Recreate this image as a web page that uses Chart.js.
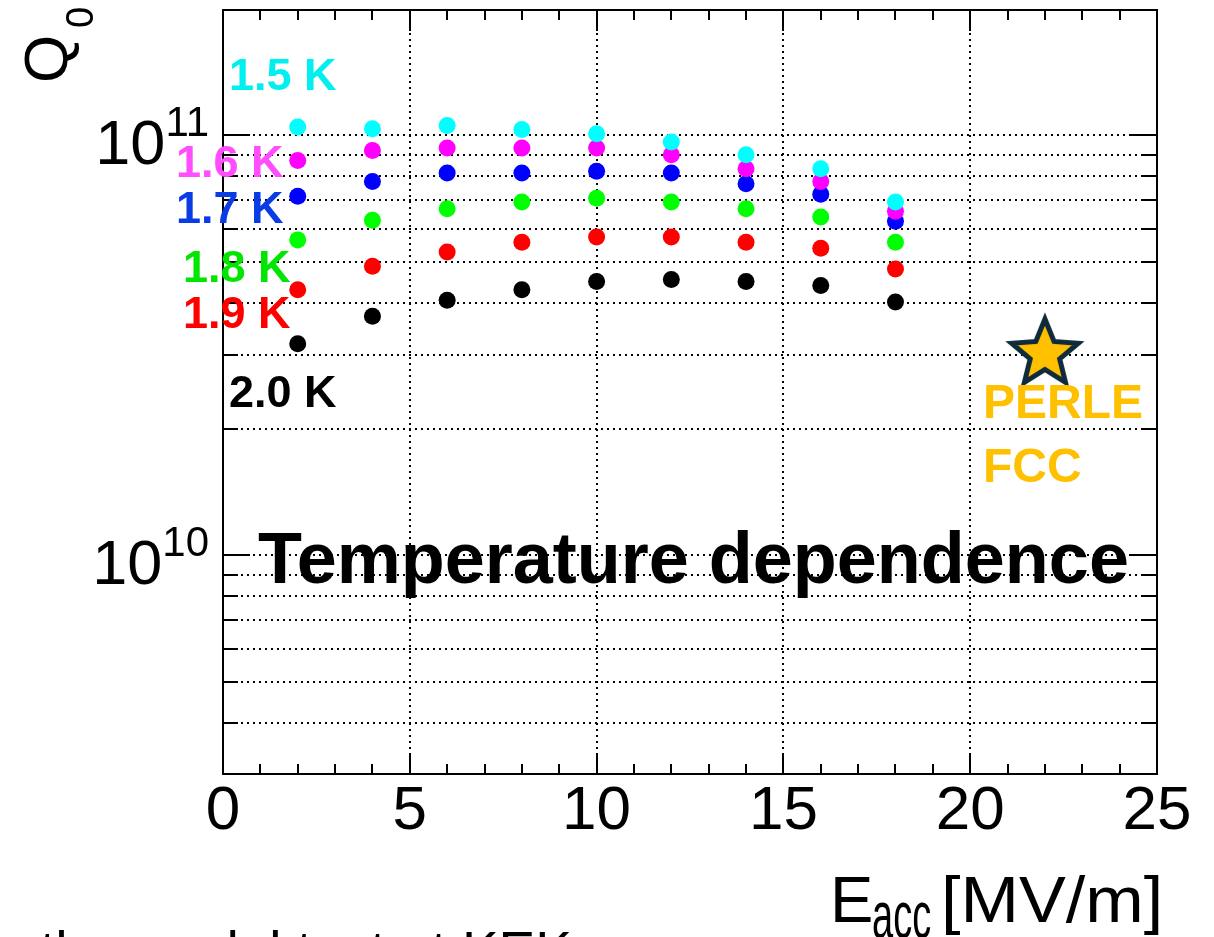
<!DOCTYPE html>
<html>
<head>
<meta charset="utf-8">
<script src="https://cdn.jsdelivr.net/npm/chart.js@4/dist/chart.umd.min.js"></script>
<style>
  html, body { margin: 0; padding: 0; background: #fff; }
  canvas { display: block; }
</style>
</head>
<body>
<canvas id="c" width="1214" height="937" style="width:1214px;height:937px"></canvas>
<script>
// Accelerating gradient (MV/m) at which Q0 was measured
const fieldMVm = [2, 4, 6, 8, 10, 12, 14, 16, 18];

// Q0 per bath temperature
const q0_15K = [1.047e11, 1.037e11, 1.056e11, 1.033e11, 1.009e11, 9.64e10, 9.00e10, 8.33e10, 6.94e10];
const q0_16K = [8.72e10, 9.21e10, 9.33e10, 9.33e10, 9.33e10, 9.00e10, 8.33e10, 7.77e10, 6.60e10];
const q0_17K = [7.16e10, 7.77e10, 8.14e10, 8.14e10, 8.22e10, 8.14e10, 7.67e10, 7.24e10, 6.25e10];
const q0_18K = [5.64e10, 6.28e10, 6.69e10, 6.94e10, 7.09e10, 6.94e10, 6.69e10, 6.39e10, 5.57e10];
const q0_19K = [4.29e10, 4.88e10, 5.28e10, 5.57e10, 5.73e10, 5.73e10, 5.57e10, 5.39e10, 4.81e10];
const q0_20K = [3.19e10, 3.71e10, 4.05e10, 4.29e10, 4.49e10, 4.54e10, 4.49e10, 4.39e10, 4.01e10];

// Design target (PERLE / FCC)
const targetField = [22];
const targetQ0 = [3.05e10];

// Axis ranges and tick labels
const xRange = [0, 25];
const xTicks = [0, 5, 10, 15, 20, 25];
const yRange = [3e9, 2e11];
const yDecades = [1e10, 1e11];

// Series labels and colours
const tempLabels = ['1.5 K', '1.6 K', '1.7 K', '1.8 K', '1.9 K', '2.0 K'];
const markerColors = ['#00ffff', '#ff00ff', '#0000ff', '#00ff00', '#ff0000', '#000000'];
const labelColors = ['#00f0f0', '#ff4dff', '#0a3ce6', '#00e600', '#ff0000', '#000000'];
const series = [q0_15K, q0_16K, q0_17K, q0_18K, q0_19K, q0_20K];

const FONT = "'Liberation Sans', Arial, Helvetica, sans-serif";

function toPoints(xs, ys) { return xs.map((x, i) => ({ x: x, y: ys[i] })); }

// Filled five-pointed star used as the target marker
function makeStar() {
  const size = 84, c = document.createElement('canvas');
  c.width = size; c.height = size;
  const g = c.getContext('2d');
  const R = 35, r = 15.5, cx = size / 2, cy = size / 2 + 2;
  g.beginPath();
  for (let i = 0; i < 10; i++) {
    const rad = i % 2 === 0 ? R : r;
    const ang = -Math.PI / 2 + i * Math.PI / 5;
    const px = cx + rad * Math.cos(ang), py = cy + rad * Math.sin(ang);
    if (i === 0) g.moveTo(px, py); else g.lineTo(px, py);
  }
  g.closePath();
  g.fillStyle = '#ffc000';
  g.fill();
  g.lineWidth = 5;
  g.lineJoin = 'miter';
  g.strokeStyle = '#0f2a3a';
  g.stroke();
  return c;
}

const datasets = series.map((vals, i) => ({
  label: tempLabels[i],
  data: toPoints(fieldMVm, vals),
  pointRadius: 8.5,
  pointHoverRadius: 8.5,
  pointBorderWidth: 0,
  pointBackgroundColor: markerColors[i],
  pointBorderColor: markerColors[i],
  showLine: false
}));
datasets.push({
  label: 'PERLE / FCC',
  data: toPoints(targetField, targetQ0),
  pointStyle: makeStar(),
  pointRadius: 30,
  showLine: false
});

// ROOT-like frame: dotted grid, inward ticks on all sides, custom labels
const framePlugin = {
  id: 'rootFrame',
  beforeDatasetsDraw(chart) {
    const ctx = chart.ctx, a = chart.chartArea, xs = chart.scales.x, ys = chart.scales.y;
    ctx.save();
    ctx.strokeStyle = '#000';
    ctx.lineWidth = 2;
    ctx.setLineDash([2, 4]);
    xTicks.forEach(v => {
      if (v <= xRange[0] || v >= xRange[1]) return;
      const px = Math.round(xs.getPixelForValue(v));
      ctx.beginPath(); ctx.moveTo(px, a.top); ctx.lineTo(px, a.bottom); ctx.stroke();
    });
    for (let e = 9; e <= 11; e++) {
      for (let m = 1; m <= 9; m++) {
        const v = m * Math.pow(10, e);
        if (v <= yRange[0] * 1.001 || v >= yRange[1] * 0.999) continue;
        const py = Math.round(ys.getPixelForValue(v));
        ctx.beginPath(); ctx.moveTo(a.left, py); ctx.lineTo(a.right, py); ctx.stroke();
      }
    }
    ctx.restore();
  },
  afterDatasetsDraw(chart) {
    const ctx = chart.ctx, a = chart.chartArea, xs = chart.scales.x, ys = chart.scales.y;
    ctx.save();
    ctx.strokeStyle = '#000';
    ctx.lineWidth = 2;
    ctx.setLineDash([]);
    // x ticks, bottom and top
    for (let v = xRange[0] + 1; v < xRange[1]; v++) {
      const px = Math.round(xs.getPixelForValue(v));
      const len = v % 5 === 0 ? 22 : 11;
      ctx.beginPath();
      ctx.moveTo(px, a.bottom); ctx.lineTo(px, a.bottom - len);
      ctx.moveTo(px, a.top); ctx.lineTo(px, a.top + len);
      ctx.stroke();
    }
    // y ticks, left and right
    for (let e = 9; e <= 11; e++) {
      for (let m = 1; m <= 9; m++) {
        const v = m * Math.pow(10, e);
        if (v <= yRange[0] * 1.001 || v >= yRange[1] * 0.999) continue;
        const py = Math.round(ys.getPixelForValue(v));
        const len = m === 1 ? 27 : 15;
        ctx.beginPath();
        ctx.moveTo(a.left, py); ctx.lineTo(a.left + len, py);
        ctx.moveTo(a.right, py); ctx.lineTo(a.right - len, py);
        ctx.stroke();
      }
    }
    // frame
    ctx.strokeRect(a.left, a.top + 1, a.right - a.left, a.bottom - a.top - 2);

    // y tick labels 10^n
    ctx.fillStyle = '#000';
    ctx.textBaseline = 'alphabetic';
    yDecades.forEach(v => {
      const py = ys.getPixelForValue(v);
      const exp = String(Math.round(Math.log10(v)));
      ctx.font = '42px ' + FONT;
      const ew = ctx.measureText(exp).width;
      ctx.textAlign = 'right';
      ctx.fillText(exp, 209, py + 1);
      ctx.font = '63px ' + FONT;
      ctx.fillText('10', 209 - ew, py + 29);
    });

    // y axis title Q0 (rotated)
    ctx.save();
    ctx.translate(67, 83);
    ctx.rotate(-Math.PI / 2);
    ctx.textAlign = 'left';
    ctx.font = '62px ' + FONT;
    ctx.fillText('Q', 0, 0);
    ctx.font = '38px ' + FONT;
    ctx.fillText('0', 55, 26);
    ctx.restore();

    // x axis title E_acc [MV/m]
    ctx.textAlign = 'left';
    ctx.font = '65px ' + FONT;
    ctx.fillText('E', 830, 922);
    ctx.save();
    ctx.translate(941, 922);
    ctx.scale(1.08, 1);
    ctx.fillText('[MV/m]', 0, 0);
    ctx.restore();
    ctx.save();
    ctx.translate(872, 938);
    ctx.scale(1, 1.75);
    ctx.font = '38px ' + FONT;
    ctx.fillText('acc', 0, 0);
    ctx.restore();

    // temperature labels
    const labelPos = [[229, 90], [176, 177], [176, 223], [183, 282], [183, 328], [229, 407]];
    ctx.font = 'bold 45px ' + FONT;
    tempLabels.forEach((t, i) => {
      ctx.fillStyle = labelColors[i];
      ctx.fillText(t, labelPos[i][0], labelPos[i][1]);
    });

    // target annotation
    ctx.fillStyle = '#ffc000';
    ctx.font = 'bold 48px ' + FONT;
    ctx.fillText('PERLE', 983, 418);
    ctx.fillText('FCC', 983, 482);

    // headline
    ctx.fillStyle = '#000';
    ctx.font = 'bold 72px ' + FONT;
    ctx.fillText('Temperature dependence', 258, 583);

    // caption below the figure
    ctx.font = '55px ' + FONT;
    ctx.fillText('the model test at KEK', 40, 970);
    ctx.restore();
  }
};

new Chart(document.getElementById('c'), {
  type: 'scatter',
  data: { datasets: datasets },
  options: {
    responsive: false,
    animation: false,
    events: [],
    layout: { autoPadding: false, padding: { left: 0, right: 57, top: 9, bottom: 0 } },
    plugins: { legend: { display: false }, tooltip: { enabled: false } },
    scales: {
      x: {
        type: 'linear',
        min: xRange[0],
        max: xRange[1],
        grid: { display: false, drawTicks: false },
        border: { display: false },
        afterBuildTicks: s => { s.ticks = xTicks.map(v => ({ value: v })); },
        ticks: {
          autoSkip: false,
          maxRotation: 0,
          padding: 0,
          color: '#000',
          font: { family: FONT, size: 62 }
        },
        afterFit: s => { s.height = 162; }
      },
      y: {
        type: 'logarithmic',
        min: yRange[0],
        max: yRange[1],
        grid: { display: false, drawTicks: false },
        border: { display: false },
        ticks: { display: false },
        afterFit: s => { s.width = 223; }
      }
    }
  },
  plugins: [framePlugin]
});
</script>
</body>
</html>
